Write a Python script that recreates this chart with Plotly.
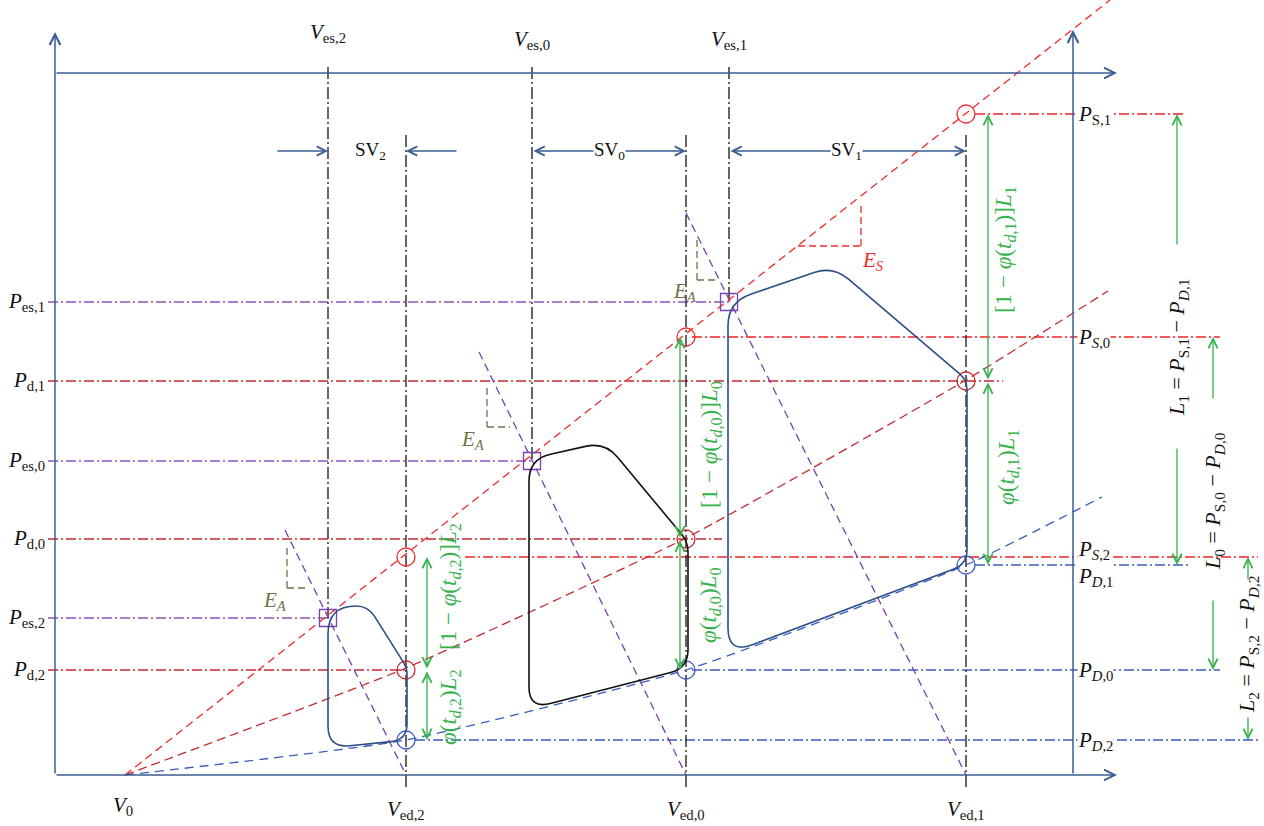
import math
import plotly.graph_objects as go

# ---------------- data (diagram units: V to the right, P upward) ----------------
V0 = 70
V_es = [477, 674, 273]          # end-systolic volumes, loops 0,1,2
V_ed = [631, 911, 351]          # end-diastolic volumes
P_es = [314, 473, 157]          # end-systolic pressures
P_d = [236, 394, 105]           # pressures at V_ed on the P_d curve
P_S = [438, 661, 218]           # P_S,i (on E_S line at V_ed)
P_D = [105, 210, 35]            # P_D,i (on EDPVR at V_ed)

# E_S line, P_d curve, EDPVR curve
es_V = [70, 1055]
es_P = [0, 775]
pd_V = [70, 351, 631, 911, 1053]
pd_P = [0, 107, 237, 395, 484]
ed_V = [70, 351, 631, 911, 1047]
ed_P = [0, 35, 105, 210, 278]

# E_A lines: top point, ending at (V_ed, 0)
ea_top_V = [424, 631, 230]
ea_top_P = [423, 562, 245]

# horizontal reference line extents
pes_start = -7
pd_end = [667, 948, 351]
pS_start = [637, 920, 410]
pS_end = [1165, 1130, 1203]
pD_start = [637, 920, 360]
pD_end = [1165, 1135, 1203]
ves_top = 708
ved_top = 640
ved_bottom = -15

# PV loops: corner vertices and corner radii
loop_V = [[474, 474, 550, 633, 633],
          [673, 673, 778, 912, 912],
          [273, 273, 313, 352, 352]]
loop_P = [[66, 316, 333, 233, 107],
          [121, 473, 509, 395, 211],
          [27, 169, 169, 107, 35]]
loop_r = [[22, 22, 20, 10, 18],
          [26, 24, 20, 10, 14],
          [22, 28, 12, 6, 16]]
loop_color = ["#111111", "#2b4f86", "#2b4f86"]

# axes
ax_top = 743
ax_right = 1062
top_line_P = 702
right_axis_V = 1018
right_axis_top = 745

# E_A / E_S slope triangles
eaT_V = [432, 642, 232]
eaT_Ptop = [387, 535, 227]
eaT_Pbot = [348, 495, 187]
eaT_Vright = [455, 664, 253]
esT_Vleft, esT_Vright, esT_Pbot, esT_Ptop = 743, 806, 529, 570

# annotation arrows
SV_P = 624
green_V = [625, 933, 372]
L_V = [1158, 1122, 1193]
L_up_tail = [375, 529, 194]
L_down_tail = [176, 328, 59]

FONT = "Liberation Serif, Times New Roman, serif"
BLUE_AX = "#3b5d93"
RED = "#f02a2a"
DRED = "#c42a30"
LRED = "#f05a5a"
PURP = "#8a55bd"
PURP_D = "#7a3fb0"
BLUE_D = "#3a5bbf"
GREEN = "#35b24c"
OLIVE = "#6e7245"
BLACK = "#262626"

fig = go.Figure()


def add_segments(pairs, color, width, dash):
    xs, ys = [], []
    for (x1, y1, x2, y2) in pairs:
        xs += [x1, x2, None]
        ys += [y1, y2, None]
    fig.add_trace(go.Scatter(x=xs, y=ys, mode="lines",
                             line=dict(color=color, width=width, dash=dash),
                             hoverinfo="skip"))


HDD = "10px,3px,2px,3px"
# horizontal dash-dot lines
add_segments([(pes_start, P_es[i], V_es[i], P_es[i]) for i in range(3)], PURP, 1.5, HDD)
add_segments([(pes_start, P_d[i], pd_end[i], P_d[i]) for i in range(3)], DRED, 1.5, HDD)
add_segments([(pS_start[i], P_S[i], pS_end[i], P_S[i]) for i in range(3)], LRED, 1.8, HDD)
add_segments([(pD_start[i], P_D[i], pD_end[i], P_D[i]) for i in range(3)], BLUE_D, 1.5, HDD)
# vertical dash-dot lines
add_segments([(V_es[i], ves_top, V_es[i], P_es[i]) for i in range(3)], BLACK, 1.4, "12px,3px,2px,3px")
add_segments([(V_ed[i], ved_top, V_ed[i], ved_bottom) for i in range(3)], BLACK, 1.4, "12px,3px,2px,3px")

# E_A lines
add_segments([(ea_top_V[i], ea_top_P[i], V_ed[i], 0) for i in range(3)], PURP_D, 1.3, "8px,5px")

# E_S line, P_d curve, EDPVR
fig.add_trace(go.Scatter(x=es_V, y=es_P, mode="lines", line=dict(color=RED, width=1.3, dash="8px,5px"), hoverinfo="skip"))
fig.add_trace(go.Scatter(x=pd_V, y=pd_P, mode="lines", line=dict(color=DRED, width=1.3, dash="9px,5px", shape="spline", smoothing=0.5), hoverinfo="skip"))
fig.add_trace(go.Scatter(x=ed_V, y=ed_P, mode="lines", line=dict(color=BLUE_D, width=1.3, dash="9px,6px", shape="spline", smoothing=0.5), hoverinfo="skip"))

# slope triangles
add_segments([(eaT_V[i], eaT_Ptop[i], eaT_V[i], eaT_Pbot[i]) for i in range(3)] +
             [(eaT_V[i], eaT_Pbot[i], eaT_Vright[i], eaT_Pbot[i]) for i in range(3)], OLIVE, 1.3, "7px,4px")
add_segments([(esT_Vleft, esT_Pbot, esT_Vright, esT_Pbot), (esT_Vright, esT_Pbot, esT_Vright, esT_Ptop)], RED, 1.3, "7px,4px")

# markers
fig.add_trace(go.Scatter(x=V_ed, y=P_S, mode="markers", marker=dict(symbol="circle-open", size=18, color=RED, line=dict(width=1.3)), hoverinfo="skip"))
fig.add_trace(go.Scatter(x=V_ed, y=P_d, mode="markers", marker=dict(symbol="circle-open", size=18, color=DRED, line=dict(width=1.3)), hoverinfo="skip"))
fig.add_trace(go.Scatter(x=V_ed, y=P_D, mode="markers", marker=dict(symbol="circle-open", size=18, color=BLUE_D, line=dict(width=1.3)), hoverinfo="skip"))
fig.add_trace(go.Scatter(x=V_es, y=P_es, mode="markers", marker=dict(symbol="square-open", size=17, color=PURP_D, line=dict(width=1.3)), hoverinfo="skip"))


# loops as rounded paths
def rounded_path(vs, ps, rs):
    n = len(vs)
    corners = []
    for i in range(n):
        cx, cy = vs[i], ps[i]
        ax_, ay_ = vs[i - 1], ps[i - 1]
        bx, by = vs[(i + 1) % n], ps[(i + 1) % n]
        d1 = math.hypot(ax_ - cx, ay_ - cy)
        d2 = math.hypot(bx - cx, by - cy)
        r = rs[i]
        a = (cx + (ax_ - cx) * r / d1, cy + (ay_ - cy) * r / d1)
        b = (cx + (bx - cx) * r / d2, cy + (by - cy) * r / d2)
        corners.append((a, (cx, cy), b))
    s = "M%.2f,%.2f" % corners[0][2]
    for k in range(1, n + 1):
        a, c, b = corners[k % n]
        s += " L%.2f,%.2f Q%.2f,%.2f %.2f,%.2f" % (a[0], a[1], c[0], c[1], b[0], b[1])
    return s + " Z"


for i in range(3):
    fig.add_shape(type="path", path=rounded_path(loop_V[i], loop_P[i], loop_r[i]),
                  xref="x", yref="y", line=dict(color=loop_color[i], width=1.6),
                  fillcolor="rgba(0,0,0,0)")

ann = []


def arrow(x, y, tx, ty, color, width=1.4, double=False, size=1.4):
    d = dict(x=x, y=y, ax=tx, ay=ty, xref="x", yref="y", axref="x", ayref="y",
             text="", showarrow=True, arrowhead=5, arrowsize=size, arrowwidth=width,
             arrowcolor=color, standoff=0, startstandoff=0)
    if double:
        d.update(arrowside="end+start", startarrowhead=5, startarrowsize=size)
    ann.append(d)


def label(x, y, text, size=21, color="#111", xanchor="center", angle=0, bg=None, yanchor="middle"):
    d = dict(x=x, y=y, xref="x", yref="y", text=text, showarrow=False,
             font=dict(family=FONT, size=size, color=color), xanchor=xanchor,
             yanchor=yanchor, textangle=angle, borderpad=0)
    if bg:
        d["bgcolor"] = bg
    ann.append(d)


# axes
arrow(0, ax_top, 0, 0, BLUE_AX, 1.5)
arrow(ax_right, 0, 0, 0, BLUE_AX, 1.5)
arrow(ax_right, top_line_P, 0, top_line_P, BLUE_AX, 1.5)
arrow(right_axis_V, right_axis_top, right_axis_V, 0, BLUE_AX, 1.5)

# SV arrows
arrow(V_es[2], SV_P, V_es[2] - 52, SV_P, BLUE_AX, 1.3)
arrow(V_ed[2], SV_P, V_ed[2] + 52, SV_P, BLUE_AX, 1.3)
arrow(V_ed[0], SV_P, V_es[0], SV_P, BLUE_AX, 1.3, double=True)
arrow(V_ed[1], SV_P, V_es[1], SV_P, BLUE_AX, 1.3, double=True)

# green phi arrows
for i in range(3):
    arrow(green_V[i], P_S[i], green_V[i], P_d[i], GREEN, 1.3, double=True)
    arrow(green_V[i], P_D[i], green_V[i], P_d[i], GREEN, 1.3, double=True)

# L arrows (right)
for i in range(3):
    arrow(L_V[i], P_S[i], L_V[i], L_up_tail[i], GREEN, 1.3)
    arrow(L_V[i], P_D[i], L_V[i], L_down_tail[i], GREEN, 1.3)

# SV labels
label((V_es[2] + V_ed[2]) / 2 + 3, SV_P, "SV<sub>2</sub>", 19)
label((V_es[0] + V_ed[0]) / 2, SV_P, "SV<sub>0</sub>", 19, bg="white")
label((V_es[1] + V_ed[1]) / 2 - 1, SV_P, "SV<sub>1</sub>", 19, bg="white")

# volume labels
label(V0 - 2, -31, "<i>V</i><sub>0</sub>")
for i in range(3):
    label(V_ed[i], -35, "<i>V</i><sub>ed,%d</sub>" % i)
label(V_es[2], 742, "<i>V</i><sub>es,2</sub>")
label(V_es[0], 735, "<i>V</i><sub>es,0</sub>")
label(V_es[1], 735, "<i>V</i><sub>es,1</sub>")

# left pressure labels
for i in range(3):
    label(-9, P_es[i], "<i>P</i><sub>es,%d</sub>" % i, xanchor="right")
    label(-9, P_d[i], "<i>P</i><sub>d,%d</sub>" % i, xanchor="right")

# right pressure labels
label(1022, P_S[1] - 1, "<i>P</i><sub>S,1</sub>", xanchor="left", bg="white")
label(1022, P_S[0] - 1, "<i>P</i><sub><i>S</i>,0</sub>", xanchor="left", bg="white")
label(1022, P_S[2] + 7, "<i>P</i><sub><i>S</i>,2</sub>", xanchor="left", bg="white")
label(1022, P_D[1] - 12, "<i>P</i><sub><i>D</i>,1</sub>", xanchor="left", bg="white")
label(1022, P_D[0] - 1, "<i>P</i><sub><i>D</i>,0</sub>", xanchor="left", bg="white")
label(1022, P_D[2] - 1, "<i>P</i><sub><i>D</i>,2</sub>", xanchor="left", bg="white")

# E labels
label(220, 174, "<i>E</i><sub><i>A</i></sub>", 21, OLIVE)
label(418, 335, "<i>E</i><sub><i>A</i></sub>", 21, OLIVE)
label(630, 483, "<i>E</i><sub><i>A</i></sub>", 21, OLIVE)
label(818, 514, "<i>E</i><sub><i>S</i></sub>", 21, RED)

# green rotated texts
gtxt_up = "[1 − <i>φ</i>(<i>t</i><sub><i>d</i>,%d</sub>)]<i>L</i><sub>%d</sub>"
gtxt_lo = "<i>φ</i>(<i>t</i><sub><i>d</i>,%d</sub>)<i>L</i><sub>%d</sub>"
GS = 23
label(950, 525, gtxt_up % (1, 1), GS, GREEN, angle=-90)
label(953, 307, gtxt_lo % (1, 1), GS, GREEN, angle=-90)
label(656, 330, gtxt_up % (0, 0), GS, GREEN, angle=-90)
label(655, 169, gtxt_lo % (0, 0), GS, GREEN, angle=-90)
label(395, 188, gtxt_up % (2, 2), GS, GREEN, angle=-90)
label(395, 67, gtxt_lo % (2, 2), GS, GREEN, angle=-90)

# L rotated texts
LS = 22
label(1123, 427, "<i>L</i><sub>1</sub> = <i>P</i><sub>S,1</sub> − <i>P</i><sub><i>D</i>,1</sub>", LS, angle=-90)
label(1159, 274, "<i>L</i><sub>0</sub> = <i>P</i><sub>S,0</sub> − <i>P</i><sub><i>D</i>,0</sub>", LS, angle=-90)
label(1193, 130, "<i>L</i><sub>2</sub> = <i>P</i><sub>S,2</sub> − <i>P</i><sub><i>D</i>,2</sub>", LS, angle=-90)

fig.update_layout(
    width=1264, height=826,
    margin=dict(l=0, r=0, t=0, b=0),
    paper_bgcolor="white", plot_bgcolor="white",
    showlegend=False,
    xaxis=dict(range=[-55, 1209], visible=False, fixedrange=True),
    yaxis=dict(range=[-51, 775], visible=False, fixedrange=True),
    annotations=ann,
    font=dict(family=FONT),
)

fig.write_html("out.html", config={"displayModeBar": False})
